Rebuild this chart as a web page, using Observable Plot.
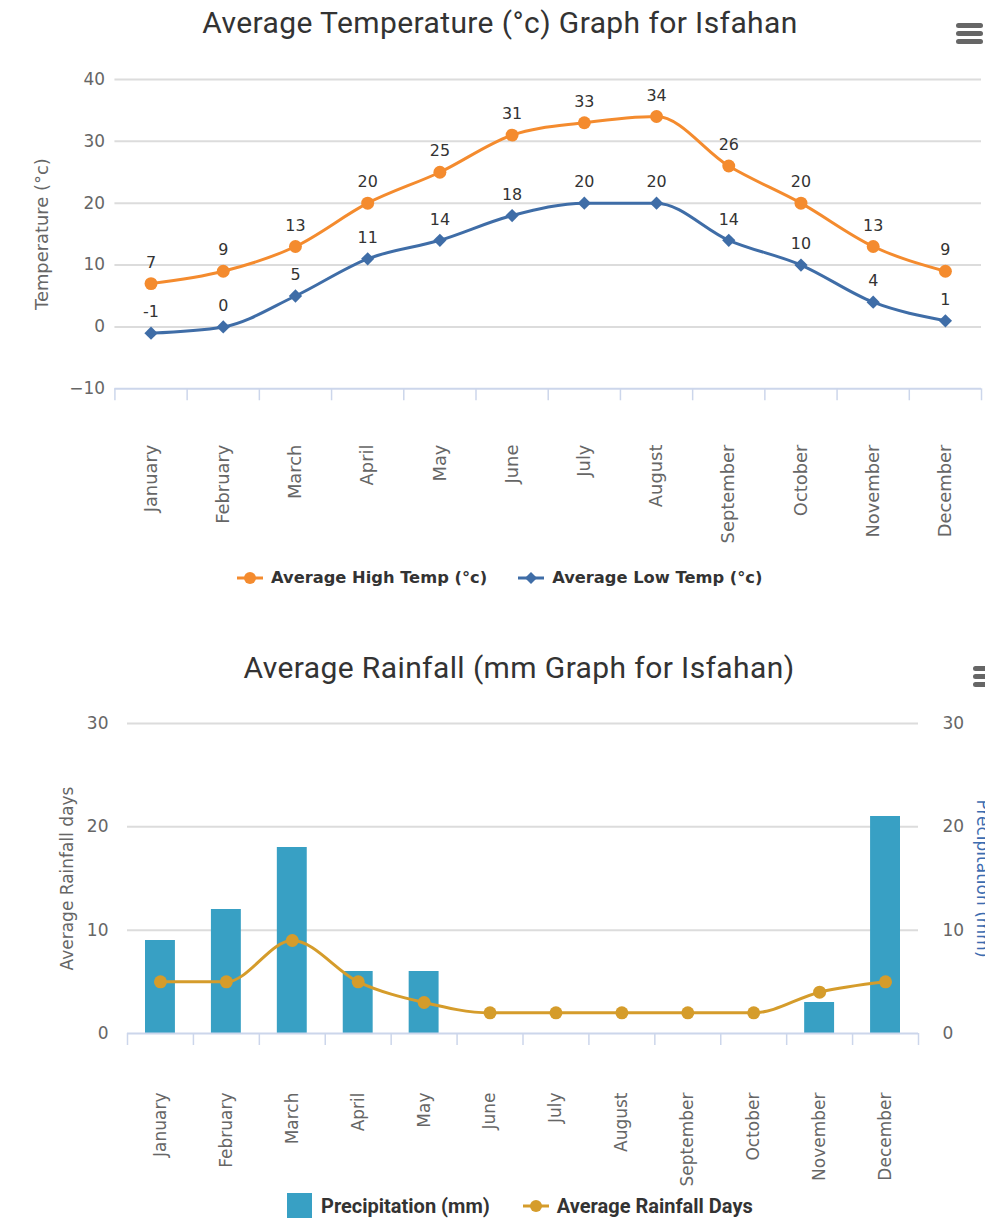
<!DOCTYPE html>
<html>
<head>
<meta charset="utf-8">
<script src="https://cdn.jsdelivr.net/npm/d3@7"></script>
<script src="https://cdn.jsdelivr.net/npm/@observablehq/plot@0.6"></script>
<style>
  html, body { margin: 0; padding: 0; background: #fff; overflow: hidden; }
  #page { position: relative; width: 985px; height: 1232px; overflow: hidden; font-family: "DejaVu Sans", sans-serif; }
  .abs { position: absolute; }
  .title { position: absolute; left: 0; width: 1000px; text-align: center; font-family: Roboto, "Open Sans", sans-serif; font-size: 30px; letter-spacing: 0.4px; color: #333; white-space: nowrap; }
  .menu { position: absolute; width: 27px; }
  .menu span { display: block; height: 5px; margin-bottom: 3px; background: #666; border-radius: 3px; }
  .legend { position: absolute; display: flex; align-items: center; white-space: nowrap; color: #333; font-weight: bold; }
  .legend .item { display: flex; align-items: center; }
  .legend svg { margin-right: 8px; }
</style>
</head>
<body>
<div id="page">
  <div class="title" style="top:5px;">Average Temperature (°c) Graph for Isfahan</div>
  <div class="menu" style="left:956px; top:23px;"><span></span><span></span><span></span></div>
  <div id="temp" class="abs" style="left:0; top:60px;"></div>
  <div class="legend" id="legend1" style="left:237px; top:568px; font-size:16.3px;"></div>

  <div class="title" style="top:650px; left:19px;">Average Rainfall (mm Graph for Isfahan)</div>
  <div class="menu" style="left:973px; top:666px;"><span></span><span></span><span></span></div>
  <div id="rain" class="abs" style="left:0; top:700px;"></div>
  <div class="legend" id="legend2" style="left:287px; top:1193px; font-size:20px; font-family: Roboto, sans-serif;"></div>
</div>
<script>
// Monthly climate normals for Isfahan
const months = ["January", "February", "March", "April", "May", "June",
  "July", "August", "September", "October", "November", "December"];
const highTemp = [7, 9, 13, 20, 25, 31, 33, 34, 26, 20, 13, 9];
const lowTemp = [-1, 0, 5, 11, 14, 18, 20, 20, 14, 10, 4, 1];
const precipitation = [9, 12, 18, 6, 6, 0, 0, 0, 0, 0, 3, 21];
const rainDays = [5, 5, 9, 5, 3, 2, 2, 2, 2, 2, 4, 5];

const tempTicks = [-10, 0, 10, 20, 30, 40];
const rainTicks = [0, 10, 20, 30];

const highColor = "#f48b2e";
const lowColor = "#3f6da7";
const barColor = "#38a0c4";
const daysColor = "#d59c2b";
const gridColor = "#dcdcdc";
const axisColor = "#ccd6eb";
const labelColor = "#666";

// Each month occupies one unit on a linear x scale; values sit at the band centre.
const temps = months.map((m, i) => ({month: m, i, high: highTemp[i], low: lowTemp[i]}));
const rain = months.map((m, i) => ({month: m, i, precip: precipitation[i], days: rainDays[i]}));
const centres = months.map((m, i) => i + 0.5);
const edges = d3.range(months.length + 1);
const mid = d => d.i + 0.5;

const monthAxis = (padding, size) => [
  Plot.axisX({ticks: edges, tickSize: 12, tickFormat: () => "", label: null, stroke: axisColor, strokeWidth: 1.5}),
  Plot.axisX({ticks: centres, tickSize: 0, tickPadding: padding, tickRotate: -90, label: null,
    tickFormat: v => months[Math.floor(v)], fill: labelColor, fontSize: size})
];

const tempChart = Plot.plot({
  width: 990, height: 500,
  marginLeft: 115, marginRight: 4, marginTop: 19, marginBottom: 170,
  style: {fontFamily: "DejaVu Sans, sans-serif", background: "transparent", overflow: "visible"},
  x: {type: "linear", domain: [0, 12], axis: null},
  y: {domain: [-10, 40], axis: null},
  marks: [
    Plot.ruleY(tempTicks.filter(t => t > -10), {stroke: gridColor, strokeWidth: 2}),
    Plot.ruleY([-10], {stroke: axisColor, strokeWidth: 2}),
    Plot.axisY({ticks: tempTicks, tickSize: 0, tickPadding: 10, label: null, fill: labelColor, fontSize: 17}),
    Plot.text(["Temperature (°c)"], {frameAnchor: "left", textAnchor: "middle", rotate: -90, dx: -73, fill: labelColor, fontSize: 18}),
    ...monthAxis(56, 18),
    Plot.line(temps, {x: mid, y: "high", stroke: highColor, strokeWidth: 3, curve: "monotone-x"}),
    Plot.line(temps, {x: mid, y: "low", stroke: lowColor, strokeWidth: 3, curve: "monotone-x"}),
    Plot.dot(temps, {x: mid, y: "high", fill: highColor, r: 6.5}),
    Plot.dot(temps, {x: mid, y: "low", fill: lowColor, symbol: "diamond2", r: 6}),
    Plot.text(temps, {x: mid, y: "high", text: "high", dy: -21, fill: "#333", fontSize: 16}),
    Plot.text(temps, {x: mid, y: "low", text: "low", dy: -21, fill: "#333", fontSize: 16})
  ]
});
document.getElementById("temp").append(tempChart);

const rainChart = Plot.plot({
  width: 985, height: 490,
  marginLeft: 127, marginRight: 67, marginTop: 23, marginBottom: 157,
  style: {fontFamily: "DejaVu Sans, sans-serif", background: "transparent", overflow: "visible"},
  x: {type: "linear", domain: [0, 12], axis: null},
  y: {domain: [0, 30], axis: null},
  marks: [
    Plot.ruleY(rainTicks.filter(t => t > 0), {stroke: gridColor, strokeWidth: 2}),
    Plot.axisY({ticks: rainTicks, tickSize: 0, tickPadding: 19, label: null, fill: labelColor, fontSize: 17}),
    Plot.axisY({ticks: rainTicks, anchor: "right", tickSize: 0, tickPadding: 24, label: null, fill: labelColor, fontSize: 17}),
    Plot.text(["Average Rainfall days"], {frameAnchor: "left", textAnchor: "middle", rotate: -90, dx: -60, fill: labelColor, fontSize: 17}),
    Plot.text(["Precipitation (mm)"], {frameAnchor: "right", textAnchor: "middle", rotate: 90, dx: 64, fill: "#3d6cb0", fontSize: 17}),
    Plot.rectY(rain, {x1: "i", x2: d => d.i + 1, y: "precip", fill: barColor, insetLeft: 18, insetRight: 18}),
    Plot.ruleY([0], {stroke: axisColor, strokeWidth: 2}),
    ...monthAxis(59, 17),
    Plot.line(rain, {x: mid, y: "days", stroke: daysColor, strokeWidth: 3, curve: "monotone-x"}),
    Plot.dot(rain, {x: mid, y: "days", fill: daysColor, r: 6.5})
  ]
});
document.getElementById("rain").append(rainChart);

// Legends
function lineSymbol(color, shape) {
  const s = shape === "circle"
    ? `<circle cx="13" cy="8" r="6" fill="${color}"/>`
    : `<path d="M13 2 L19 8 L13 14 L7 8 Z" fill="${color}"/>`;
  return `<svg width="26" height="16"><line x1="0" y1="8" x2="26" y2="8" stroke="${color}" stroke-width="3"/>${s}</svg>`;
}
document.getElementById("legend1").innerHTML =
  `<div class="item" style="margin-right:31px">${lineSymbol(highColor, "circle")}Average High Temp (°c)</div>` +
  `<div class="item">${lineSymbol(lowColor, "diamond")}Average Low Temp (°c)</div>`;
document.getElementById("legend2").innerHTML =
  `<div class="item" style="margin-right:33px"><svg width="26" height="26"><rect width="25" height="25" fill="${barColor}"/></svg>Precipitation (mm)</div>` +
  `<div class="item">${lineSymbol(daysColor, "circle")}Average Rainfall Days</div>`;
</script>
</body>
</html>
